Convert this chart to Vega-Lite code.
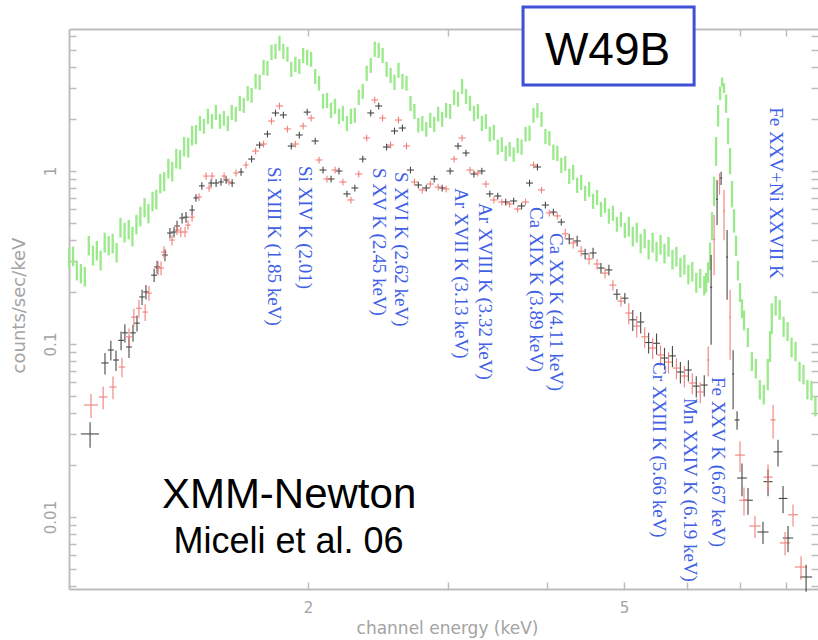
{
  "$schema": "https://vega.github.io/schema/vega-lite/v6.json",
  "width": 749,
  "height": 560,
  "autosize": "none",
  "padding": {"left": 69, "top": 29, "right": 0, "bottom": 51},
  "background": "white",
  "config": {
    "view": {"stroke": null},
    "axis": {
      "grid": false,
      "domainColor": "#bdbdbd",
      "domainWidth": 2,
      "tickColor": "#bdbdbd",
      "tickWidth": 1.5,
      "tickSize": -7,
      "labelColor": "#a3a3a3",
      "labelFont": "DejaVu Sans",
      "labelFontSize": 15,
      "labelOverlap": false,
      "titleColor": "#a3a3a3",
      "titleFont": "DejaVu Sans",
      "titleFontSize": 17,
      "titleFontWeight": "normal"
    }
  },
  "datasets": {
    "spectrum": [
      {"d":"pn","e":1.000,"c":0.314,"dc":0.041,"de":0.006},{"d":"pn","e":1.012,"c":0.323,"dc":0.042,"de":0.006},{"d":"pn","e":1.023,"c":0.268,"dc":0.035,"de":0.006},{"d":"pn","e":1.035,"c":0.257,"dc":0.033,"de":0.006},
      {"d":"pn","e":1.047,"c":0.247,"dc":0.032,"de":0.006},{"d":"pn","e":1.059,"c":0.373,"dc":0.048,"de":0.006},{"d":"pn","e":1.072,"c":0.327,"dc":0.043,"de":0.006},{"d":"pn","e":1.084,"c":0.349,"dc":0.045,"de":0.006},
      {"d":"pn","e":1.096,"c":0.306,"dc":0.040,"de":0.006},{"d":"pn","e":1.109,"c":0.389,"dc":0.051,"de":0.006},{"d":"pn","e":1.122,"c":0.373,"dc":0.048,"de":0.007},{"d":"pn","e":1.135,"c":0.384,"dc":0.050,"de":0.007},
      {"d":"pn","e":1.148,"c":0.340,"dc":0.044,"de":0.007},{"d":"pn","e":1.161,"c":0.474,"dc":0.062,"de":0.007},{"d":"pn","e":1.175,"c":0.444,"dc":0.058,"de":0.007},{"d":"pn","e":1.189,"c":0.462,"dc":0.060,"de":0.007},
      {"d":"pn","e":1.202,"c":0.421,"dc":0.055,"de":0.007},{"d":"pn","e":1.216,"c":0.494,"dc":0.064,"de":0.007},{"d":"pn","e":1.230,"c":0.550,"dc":0.072,"de":0.007},{"d":"pn","e":1.245,"c":0.619,"dc":0.080,"de":0.007},
      {"d":"pn","e":1.259,"c":0.572,"dc":0.074,"de":0.007},{"d":"pn","e":1.274,"c":0.671,"dc":0.087,"de":0.007},{"d":"pn","e":1.288,"c":0.690,"dc":0.090,"de":0.007},{"d":"pn","e":1.303,"c":0.852,"dc":0.11,"de":0.008},
      {"d":"pn","e":1.318,"c":0.875,"dc":0.11,"de":0.008},{"d":"pn","e":1.334,"c":1.041,"dc":0.135,"de":0.008},{"d":"pn","e":1.349,"c":1.000,"dc":0.13,"de":0.008},{"d":"pn","e":1.365,"c":1.189,"dc":0.155,"de":0.008},
      {"d":"pn","e":1.380,"c":1.173,"dc":0.15,"de":0.008},{"d":"pn","e":1.396,"c":1.394,"dc":0.18,"de":0.008},{"d":"pn","e":1.413,"c":1.376,"dc":0.18,"de":0.008},{"d":"pn","e":1.429,"c":1.615,"dc":0.21,"de":0.008},
      {"d":"pn","e":1.445,"c":1.637,"dc":0.21,"de":0.008},{"d":"pn","e":1.462,"c":1.894,"dc":0.19,"de":0.008},{"d":"pn","e":1.479,"c":1.821,"dc":0.18,"de":0.009},{"d":"pn","e":1.496,"c":2.078,"dc":0.21,"de":0.009},
      {"d":"pn","e":1.514,"c":1.945,"dc":0.19,"de":0.009},{"d":"pn","e":1.531,"c":2.193,"dc":0.22,"de":0.009},{"d":"pn","e":1.549,"c":1.945,"dc":0.19,"de":0.009},{"d":"pn","e":1.567,"c":2.025,"dc":0.20,"de":0.009},
      {"d":"pn","e":1.585,"c":1.894,"dc":0.19,"de":0.009},{"d":"pn","e":1.603,"c":2.193,"dc":0.22,"de":0.009},{"d":"pn","e":1.622,"c":2.135,"dc":0.21,"de":0.009},{"d":"pn","e":1.641,"c":2.472,"dc":0.25,"de":0.010},
      {"d":"pn","e":1.660,"c":2.407,"dc":0.24,"de":0.010},{"d":"pn","e":1.679,"c":2.822,"dc":0.28,"de":0.010},{"d":"pn","e":1.698,"c":2.750,"dc":0.27,"de":0.010},{"d":"pn","e":1.718,"c":3.312,"dc":0.33,"de":0.010},
      {"d":"pn","e":1.738,"c":3.268,"dc":0.33,"de":0.010},{"d":"pn","e":1.758,"c":3.99,"dc":0.40,"de":0.010},{"d":"pn","e":1.778,"c":3.94,"dc":0.39,"de":0.010},{"d":"pn","e":1.799,"c":4.87,"dc":0.49,"de":0.010},
      {"d":"pn","e":1.820,"c":4.94,"dc":0.49,"de":0.011},{"d":"pn","e":1.841,"c":5.50,"dc":0.55,"de":0.011},{"d":"pn","e":1.862,"c":4.94,"dc":0.49,"de":0.011},{"d":"pn","e":1.884,"c":4.75,"dc":0.47,"de":0.011},
      {"d":"pn","e":1.905,"c":3.89,"dc":0.39,"de":0.011},{"d":"pn","e":1.928,"c":4.16,"dc":0.42,"de":0.011},{"d":"pn","e":1.950,"c":4.04,"dc":0.40,"de":0.011},{"d":"pn","e":1.972,"c":4.68,"dc":0.47,"de":0.011},
      {"d":"pn","e":1.995,"c":4.56,"dc":0.46,"de":0.012},{"d":"pn","e":2.018,"c":4.44,"dc":0.44,"de":0.012},{"d":"pn","e":2.042,"c":3.54,"dc":0.35,"de":0.012},{"d":"pn","e":2.065,"c":3.23,"dc":0.32,"de":0.012},
      {"d":"pn","e":2.089,"c":2.54,"dc":0.25,"de":0.012},{"d":"pn","e":2.113,"c":2.57,"dc":0.26,"de":0.012},{"d":"pn","e":2.138,"c":2.25,"dc":0.23,"de":0.012},{"d":"pn","e":2.163,"c":2.38,"dc":0.24,"de":0.013},
      {"d":"pn","e":2.188,"c":2.08,"dc":0.21,"de":0.013},{"d":"pn","e":2.213,"c":2.16,"dc":0.22,"de":0.013},{"d":"pn","e":2.239,"c":1.89,"dc":0.19,"de":0.013},{"d":"pn","e":2.265,"c":2.08,"dc":0.21,"de":0.013},
      {"d":"pn","e":2.291,"c":2.11,"dc":0.21,"de":0.013},{"d":"pn","e":2.317,"c":2.68,"dc":0.27,"de":0.013},{"d":"pn","e":2.344,"c":2.90,"dc":0.29,"de":0.014},{"d":"pn","e":2.371,"c":3.69,"dc":0.37,"de":0.014},
      {"d":"pn","e":2.399,"c":4.10,"dc":0.41,"de":0.014},{"d":"pn","e":2.427,"c":5.08,"dc":0.51,"de":0.014},{"d":"pn","e":2.455,"c":5.01,"dc":0.50,"de":0.014},{"d":"pn","e":2.483,"c":4.68,"dc":0.47,"de":0.014},
      {"d":"pn","e":2.512,"c":3.89,"dc":0.39,"de":0.015},{"d":"pn","e":2.541,"c":3.59,"dc":0.36,"de":0.015},{"d":"pn","e":2.570,"c":3.27,"dc":0.33,"de":0.015},{"d":"pn","e":2.600,"c":3.84,"dc":0.38,"de":0.015},
      {"d":"pn","e":2.630,"c":3.31,"dc":0.33,"de":0.015},{"d":"pn","e":2.661,"c":3.23,"dc":0.32,"de":0.015},{"d":"pn","e":2.692,"c":2.47,"dc":0.25,"de":0.016},{"d":"pn","e":2.723,"c":2.22,"dc":0.22,"de":0.016},
      {"d":"pn","e":2.754,"c":1.85,"dc":0.18,"de":0.016},{"d":"pn","e":2.786,"c":1.89,"dc":0.19,"de":0.016},{"d":"pn","e":2.818,"c":1.75,"dc":0.17,"de":0.016},{"d":"pn","e":2.851,"c":1.97,"dc":0.20,"de":0.017},
      {"d":"pn","e":2.884,"c":1.87,"dc":0.19,"de":0.017},{"d":"pn","e":2.917,"c":2.14,"dc":0.21,"de":0.017},{"d":"pn","e":2.951,"c":2.00,"dc":0.20,"de":0.017},{"d":"pn","e":2.985,"c":2.25,"dc":0.22,"de":0.017},
      {"d":"pn","e":3.020,"c":2.22,"dc":0.22,"de":0.018},{"d":"pn","e":3.055,"c":2.68,"dc":0.27,"de":0.018},{"d":"pn","e":3.090,"c":2.61,"dc":0.26,"de":0.018},{"d":"pn","e":3.126,"c":3.10,"dc":0.31,"de":0.018},
      {"d":"pn","e":3.162,"c":2.71,"dc":0.27,"de":0.018},{"d":"pn","e":3.199,"c":2.47,"dc":0.25,"de":0.019},{"d":"pn","e":3.236,"c":2.16,"dc":0.22,"de":0.019},{"d":"pn","e":3.273,"c":2.22,"dc":0.22,"de":0.019},
      {"d":"pn","e":3.311,"c":1.89,"dc":0.19,"de":0.019},{"d":"pn","e":3.350,"c":1.94,"dc":0.19,"de":0.019},{"d":"pn","e":3.388,"c":1.64,"dc":0.16,"de":0.020},{"d":"pn","e":3.428,"c":1.68,"dc":0.17,"de":0.020},
      {"d":"pn","e":3.467,"c":1.38,"dc":0.14,"de":0.020},{"d":"pn","e":3.508,"c":1.43,"dc":0.14,"de":0.020},{"d":"pn","e":3.548,"c":1.27,"dc":0.13,"de":0.021},{"d":"pn","e":3.589,"c":1.34,"dc":0.13,"de":0.021},
      {"d":"pn","e":3.631,"c":1.25,"dc":0.12,"de":0.021},{"d":"pn","e":3.673,"c":1.41,"dc":0.14,"de":0.021},{"d":"pn","e":3.715,"c":1.38,"dc":0.14,"de":0.022},{"d":"pn","e":3.758,"c":1.64,"dc":0.16,"de":0.022},
      {"d":"pn","e":3.802,"c":1.66,"dc":0.17,"de":0.022},{"d":"pn","e":3.846,"c":2.11,"dc":0.21,"de":0.022},{"d":"pn","e":3.890,"c":2.25,"dc":0.22,"de":0.023},{"d":"pn","e":3.936,"c":2.00,"dc":0.20,"de":0.023},
      {"d":"pn","e":3.981,"c":1.59,"dc":0.16,"de":0.023},{"d":"pn","e":4.027,"c":1.55,"dc":0.15,"de":0.023},{"d":"pn","e":4.074,"c":1.29,"dc":0.13,"de":0.024},{"d":"pn","e":4.121,"c":1.27,"dc":0.13,"de":0.024},
      {"d":"pn","e":4.169,"c":1.083,"dc":0.11,"de":0.024},{"d":"pn","e":4.217,"c":1.11,"dc":0.11,"de":0.024},{"d":"pn","e":4.266,"c":0.935,"dc":0.094,"de":0.025},{"d":"pn","e":4.315,"c":0.987,"dc":0.099,"de":0.025},
      {"d":"pn","e":4.365,"c":0.830,"dc":0.083,"de":0.025},{"d":"pn","e":4.416,"c":0.864,"dc":0.086,"de":0.026},{"d":"pn","e":4.467,"c":0.746,"dc":0.075,"de":0.026},{"d":"pn","e":4.519,"c":0.787,"dc":0.079,"de":0.026},
      {"d":"pn","e":4.571,"c":0.671,"dc":0.067,"de":0.027},{"d":"pn","e":4.624,"c":0.707,"dc":0.071,"de":0.027},{"d":"pn","e":4.677,"c":0.603,"dc":0.060,"de":0.027},{"d":"pn","e":4.732,"c":0.636,"dc":0.064,"de":0.027},
      {"d":"pn","e":4.786,"c":0.550,"dc":0.055,"de":0.028},{"d":"pn","e":4.842,"c":0.572,"dc":0.057,"de":0.028},{"d":"pn","e":4.898,"c":0.494,"dc":0.049,"de":0.028},{"d":"pn","e":4.955,"c":0.528,"dc":0.053,"de":0.029},
      {"d":"pn","e":5.012,"c":0.456,"dc":0.046,"de":0.029},{"d":"pn","e":5.070,"c":0.481,"dc":0.063,"de":0.029},{"d":"pn","e":5.129,"c":0.421,"dc":0.055,"de":0.030},{"d":"pn","e":5.188,"c":0.444,"dc":0.058,"de":0.030},
      {"d":"pn","e":5.248,"c":0.384,"dc":0.050,"de":0.030},{"d":"pn","e":5.309,"c":0.410,"dc":0.053,"de":0.031},{"d":"pn","e":5.370,"c":0.354,"dc":0.046,"de":0.031},{"d":"pn","e":5.433,"c":0.389,"dc":0.051,"de":0.032},
      {"d":"pn","e":5.495,"c":0.344,"dc":0.045,"de":0.032},{"d":"pn","e":5.559,"c":0.378,"dc":0.049,"de":0.032},{"d":"pn","e":5.623,"c":0.336,"dc":0.044,"de":0.033},{"d":"pn","e":5.689,"c":0.368,"dc":0.048,"de":0.033},
      {"d":"pn","e":5.754,"c":0.310,"dc":0.040,"de":0.033},{"d":"pn","e":5.821,"c":0.323,"dc":0.042,"de":0.034},{"d":"pn","e":5.888,"c":0.279,"dc":0.036,"de":0.034},{"d":"pn","e":5.957,"c":0.290,"dc":0.038,"de":0.035},
      {"d":"pn","e":6.026,"c":0.254,"dc":0.033,"de":0.035},{"d":"pn","e":6.095,"c":0.264,"dc":0.034,"de":0.035},{"d":"pn","e":6.166,"c":0.228,"dc":0.030,"de":0.036},{"d":"pn","e":6.237,"c":0.241,"dc":0.031,"de":0.036},
      {"d":"pn","e":6.310,"c":0.219,"dc":0.028,"de":0.037},
      {"d":"pn","e":6.344,"c":0.228,"dc":0.030,"de":0.019},{"d":"pn","e":6.381,"c":0.261,"dc":0.035,"de":0.019},{"d":"pn","e":6.418,"c":0.327,"dc":0.060,"de":0.019},{"d":"pn","e":6.455,"c":0.487,"dc":0.090,"de":0.019},
      {"d":"pn","e":6.493,"c":0.777,"dc":0.15,"de":0.019},{"d":"pn","e":6.531,"c":1.322,"dc":0.25,"de":0.019},{"d":"pn","e":6.569,"c":2.107,"dc":0.30,"de":0.019},{"d":"pn","e":6.607,"c":2.82,"dc":0.25,"de":0.019},
      {"d":"pn","e":6.645,"c":3.27,"dc":0.20,"de":0.019},{"d":"pn","e":6.683,"c":3.02,"dc":0.20,"de":0.019},{"d":"pn","e":6.723,"c":2.47,"dc":0.30,"de":0.019},{"d":"pn","e":6.761,"c":1.726,"dc":0.30,"de":0.020},
      {"d":"pn","e":6.801,"c":1.158,"dc":0.20,"de":0.020},{"d":"pn","e":6.839,"c":0.746,"dc":0.13,"de":0.020},{"d":"pn","e":6.879,"c":0.521,"dc":0.08,"de":0.020},{"d":"pn","e":6.919,"c":0.373,"dc":0.05,"de":0.020},
      {"d":"pn","e":6.959,"c":0.268,"dc":0.035,"de":0.020},{"d":"pn","e":7.000,"c":0.200,"dc":0.025,"de":0.020},{"d":"pn","e":7.040,"c":0.161,"dc":0.020,"de":0.020},{"d":"pn","e":7.081,"c":0.138,"dc":0.018,"de":0.020},
      {"d":"pn","e":7.161,"c":0.110,"dc":0.014,"de":0.042},{"d":"pn","e":7.244,"c":0.0797,"dc":0.010,"de":0.042},{"d":"pn","e":7.328,"c":0.0726,"dc":0.0094,"de":0.043},{"d":"pn","e":7.413,"c":0.0549,"dc":0.0071,"de":0.043},
      {"d":"pn","e":7.499,"c":0.0514,"dc":0.0067,"de":0.044},{"d":"pn","e":7.586,"c":0.0680,"dc":0.014,"de":0.044},{"d":"pn","e":7.637,"c":0.0987,"dc":0.020,"de":0.022},{"d":"pn","e":7.674,"c":0.143,"dc":0.029,"de":0.044},
      {"d":"pn","e":7.762,"c":0.168,"dc":0.022,"de":0.045},{"d":"pn","e":7.852,"c":0.159,"dc":0.021,"de":0.046},{"d":"pn","e":7.943,"c":0.127,"dc":0.017,"de":0.046},{"d":"pn","e":8.035,"c":0.119,"dc":0.015,"de":0.047},
      {"d":"pn","e":8.128,"c":0.0962,"dc":0.0125,"de":0.047},{"d":"pn","e":8.222,"c":0.0911,"dc":0.0118,"de":0.048},{"d":"pn","e":8.318,"c":0.0698,"dc":0.0091,"de":0.048},{"d":"pn","e":8.414,"c":0.0671,"dc":0.0087,"de":0.049},
      {"d":"pn","e":8.511,"c":0.0549,"dc":0.0071,"de":0.049},{"d":"pn","e":8.610,"c":0.0542,"dc":0.0070,"de":0.050},{"d":"pn","e":8.710,"c":0.0438,"dc":0.0057,"de":0.050},

      {"d":"MOS1","e":1.063,"c":0.0302,"de":0.028,"dc":0.0051},{"d":"MOS1","e":1.110,"c":0.0777,"de":0.012,"dc":0.011},{"d":"MOS1","e":1.129,"c":0.0923,"de":0.010,"dc":0.012},
      {"d":"MOS1","e":1.146,"c":0.0808,"de":0.010,"dc":0.011},{"d":"MOS1","e":1.163,"c":0.105,"de":0.010,"dc":0.013},{"d":"MOS1","e":1.176,"c":0.116,"de":0.010,"dc":0.014},
      {"d":"MOS1","e":1.190,"c":0.0961,"de":0.010,"dc":0.013},{"d":"MOS1","e":1.204,"c":0.116,"de":0.010,"dc":0.013},{"d":"MOS1","e":1.218,"c":0.132,"de":0.010,"dc":0.014},
      {"d":"MOS1","e":1.236,"c":0.187,"de":0.010,"dc":0.019},{"d":"MOS1","e":1.250,"c":0.200,"de":0.010,"dc":0.019},{"d":"MOS1","e":1.280,"c":0.250,"de":0.011,"dc":0.022},
      {"d":"MOS1","e":1.291,"c":0.279,"de":0.011,"dc":0.024},{"d":"MOS1","e":1.321,"c":0.327,"de":0.011,"dc":0.026},{"d":"MOS1","e":1.340,"c":0.438,"de":0.011,"dc":0.031},
      {"d":"MOS1","e":1.356,"c":0.444,"de":0.011,"dc":0.031},{"d":"MOS1","e":1.368,"c":0.481,"de":0.011,"dc":0.034},{"d":"MOS1","e":1.388,"c":0.535,"de":0.011,"dc":0.037},
      {"d":"MOS1","e":1.404,"c":0.541,"de":0.011,"dc":0.038},{"d":"MOS1","e":1.429,"c":0.595,"de":0.011,"dc":0.042},{"d":"MOS1","e":1.445,"c":0.699,"de":0.011,"dc":0.035},
      {"d":"MOS1","e":1.470,"c":0.820,"de":0.012,"dc":0.041},{"d":"MOS1","e":1.510,"c":0.852,"de":0.012,"dc":0.043},{"d":"MOS1","e":1.532,"c":0.852,"de":0.012,"dc":0.043},
      {"d":"MOS1","e":1.554,"c":0.864,"de":0.012,"dc":0.043},{"d":"MOS1","e":1.577,"c":0.887,"de":0.012,"dc":0.044},{"d":"MOS1","e":1.605,"c":0.852,"de":0.012,"dc":0.043},
      {"d":"MOS1","e":1.647,"c":0.987,"de":0.013,"dc":0.049},
      {"d":"MOS1","e":1.698,"c":1.173,"de":0.017,"dc":0.053},{"d":"MOS1","e":1.738,"c":1.413,"de":0.018,"dc":0.064},{"d":"MOS1","e":1.778,"c":1.637,"de":0.018,"dc":0.074},
      {"d":"MOS1","e":1.820,"c":2.165,"de":0.019,"dc":0.097},{"d":"MOS1","e":1.862,"c":2.107,"de":0.019,"dc":0.095},{"d":"MOS1","e":1.905,"c":1.394,"de":0.019,"dc":0.063},
      {"d":"MOS1","e":1.950,"c":1.615,"de":0.020,"dc":0.073},{"d":"MOS1","e":1.995,"c":2.19,"de":0.020,"dc":0.099},{"d":"MOS1","e":2.042,"c":1.491,"de":0.021,"dc":0.067},
      {"d":"MOS1","e":2.089,"c":1.013,"de":0.021,"dc":0.046},{"d":"MOS1","e":2.138,"c":0.899,"de":0.022,"dc":0.040},{"d":"MOS1","e":2.188,"c":1.000,"de":0.022,"dc":0.045},
      {"d":"MOS1","e":2.239,"c":0.737,"de":0.023,"dc":0.033},{"d":"MOS1","e":2.291,"c":0.798,"de":0.023,"dc":0.036},{"d":"MOS1","e":2.344,"c":1.173,"de":0.024,"dc":0.053},
      {"d":"MOS1","e":2.399,"c":2.165,"de":0.024,"dc":0.097},{"d":"MOS1","e":2.455,"c":2.375,"de":0.025,"dc":0.107},{"d":"MOS1","e":2.512,"c":1.376,"de":0.026,"dc":0.062},
      {"d":"MOS1","e":2.570,"c":1.704,"de":0.026,"dc":0.077},{"d":"MOS1","e":2.630,"c":1.772,"de":0.027,"dc":0.080},{"d":"MOS1","e":2.692,"c":1.013,"de":0.027,"dc":0.046},
      {"d":"MOS1","e":2.754,"c":0.830,"de":0.028,"dc":0.037},{"d":"MOS1","e":2.818,"c":0.798,"de":0.029,"dc":0.036},{"d":"MOS1","e":2.884,"c":0.899,"de":0.029,"dc":0.040},
      {"d":"MOS1","e":2.951,"c":0.798,"de":0.030,"dc":0.036},{"d":"MOS1","e":3.020,"c":1.000,"de":0.031,"dc":0.045},{"d":"MOS1","e":3.090,"c":1.394,"de":0.032,"dc":0.063},
      {"d":"MOS1","e":3.162,"c":1.271,"de":0.032,"dc":0.057},{"d":"MOS1","e":3.236,"c":0.961,"de":0.033,"dc":0.043},{"d":"MOS1","e":3.311,"c":1.000,"de":0.034,"dc":0.045},
      {"d":"MOS1","e":3.388,"c":0.737,"de":0.035,"dc":0.033},{"d":"MOS1","e":3.467,"c":0.717,"de":0.035,"dc":0.032},{"d":"MOS1","e":3.548,"c":0.662,"de":0.036,"dc":0.030},
      {"d":"MOS1","e":3.631,"c":0.671,"de":0.037,"dc":0.030},{"d":"MOS1","e":3.715,"c":0.628,"de":0.038,"dc":0.028},{"d":"MOS1","e":3.802,"c":0.852,"de":0.039,"dc":0.038},
      {"d":"MOS1","e":3.890,"c":1.055,"de":0.040,"dc":0.047},{"d":"MOS1","e":3.981,"c":0.636,"de":0.041,"dc":0.029},{"d":"MOS1","e":4.074,"c":0.579,"de":0.042,"dc":0.026},
      {"d":"MOS1","e":4.169,"c":0.507,"de":0.043,"dc":0.023},{"d":"MOS1","e":4.266,"c":0.405,"de":0.044,"dc":0.028},{"d":"MOS1","e":4.365,"c":0.394,"de":0.045,"dc":0.028},
      {"d":"MOS1","e":4.467,"c":0.332,"de":0.046,"dc":0.023},{"d":"MOS1","e":4.571,"c":0.336,"de":0.047,"dc":0.024},{"d":"MOS1","e":4.677,"c":0.275,"de":0.048,"dc":0.019},
      {"d":"MOS1","e":4.786,"c":0.268,"de":0.049,"dc":0.019},{"d":"MOS1","e":4.898,"c":0.194,"de":0.050,"dc":0.014},{"d":"MOS1","e":5.012,"c":0.184,"de":0.051,"dc":0.013},
      {"d":"MOS1","e":5.129,"c":0.138,"de":0.052,"dc":0.019},{"d":"MOS1","e":5.248,"c":0.134,"de":0.054,"dc":0.019},{"d":"MOS1","e":5.370,"c":0.102,"de":0.055,"dc":0.014},
      {"d":"MOS1","e":5.495,"c":0.101,"de":0.056,"dc":0.014},{"d":"MOS1","e":5.623,"c":0.083,"de":0.057,"dc":0.012},{"d":"MOS1","e":5.754,"c":0.0853,"de":0.059,"dc":0.012},
      {"d":"MOS1","e":5.888,"c":0.0689,"de":0.060,"dc":0.0097},{"d":"MOS1","e":6.026,"c":0.0707,"de":0.061,"dc":0.0099},{"d":"MOS1","e":6.166,"c":0.0571,"de":0.063,"dc":0.0080},
      {"d":"MOS1","e":6.310,"c":0.0579,"de":0.064,"dc":0.0081},
      {"d":"MOS1","e":6.437,"c":0.213,"de":0.020,"dc":0.114},{"d":"MOS1","e":6.549,"c":0.687,"de":0.020,"dc":0.20},{"d":"MOS1","e":6.626,"c":0.910,"de":0.020,"dc":0.08},
      {"d":"MOS1","e":6.742,"c":0.318,"de":0.020,"dc":0.138},{"d":"MOS1","e":6.861,"c":0.067,"de":0.020,"dc":0.025},
      {"d":"MOS1","e":6.940,"c":0.0364,"de":0.05,"dc":0.0045},{"d":"MOS1","e":7.040,"c":0.0168,"de":0.10,"dc":0.0036},
      {"d":"MOS1","e":7.164,"c":0.0125,"de":0.10,"dc":0.0022},{"d":"MOS1","e":7.482,"c":0.00819,"de":0.12,"dc":0.0012},{"d":"MOS1","e":7.592,"c":0.0160,"de":0.10,"dc":0.0028},
      {"d":"MOS1","e":7.815,"c":0.0238,"de":0.10,"dc":0.0042},{"d":"MOS1","e":7.930,"c":0.0128,"de":0.10,"dc":0.0023},{"d":"MOS1","e":8.045,"c":0.00756,"de":0.12,"dc":0.0013},
      {"d":"MOS1","e":8.478,"c":0.00450,"de":0.15,"dc":0.0008},

      {"d":"MOS2","e":1.066,"c":0.0444,"de":0.022,"dc":0.0070},{"d":"MOS2","e":1.104,"c":0.0494,"de":0.014,"dc":0.0074},{"d":"MOS2","e":1.136,"c":0.0564,"de":0.012,"dc":0.0085},
      {"d":"MOS2","e":1.166,"c":0.0736,"de":0.011,"dc":0.0095},{"d":"MOS2","e":1.190,"c":0.110,"de":0.010,"dc":0.013},{"d":"MOS2","e":1.207,"c":0.143,"de":0.010,"dc":0.017},
      {"d":"MOS2","e":1.225,"c":0.161,"de":0.010,"dc":0.019},{"d":"MOS2","e":1.247,"c":0.153,"de":0.010,"dc":0.017},{"d":"MOS2","e":1.261,"c":0.197,"de":0.010,"dc":0.020},
      {"d":"MOS2","e":1.295,"c":0.275,"de":0.011,"dc":0.025},{"d":"MOS2","e":1.306,"c":0.275,"de":0.011,"dc":0.025},{"d":"MOS2","e":1.317,"c":0.340,"de":0.011,"dc":0.027},
      {"d":"MOS2","e":1.348,"c":0.399,"de":0.011,"dc":0.028},{"d":"MOS2","e":1.368,"c":0.456,"de":0.011,"dc":0.030},{"d":"MOS2","e":1.383,"c":0.444,"de":0.011,"dc":0.030},
      {"d":"MOS2","e":1.400,"c":0.444,"de":0.011,"dc":0.030},{"d":"MOS2","e":1.412,"c":0.487,"de":0.011,"dc":0.030},{"d":"MOS2","e":1.429,"c":0.541,"de":0.011,"dc":0.032},
      {"d":"MOS2","e":1.458,"c":0.707,"de":0.012,"dc":0.036},{"d":"MOS2","e":1.488,"c":0.935,"de":0.012,"dc":0.045},{"d":"MOS2","e":1.501,"c":0.798,"de":0.012,"dc":0.040},
      {"d":"MOS2","e":1.514,"c":0.935,"de":0.012,"dc":0.045},{"d":"MOS2","e":1.568,"c":0.935,"de":0.012,"dc":0.045},{"d":"MOS2","e":1.590,"c":0.864,"de":0.012,"dc":0.040},
      {"d":"MOS2","e":1.623,"c":0.974,"de":0.013,"dc":0.045},{"d":"MOS2","e":1.671,"c":1.083,"de":0.013,"dc":0.050},
      {"d":"MOS2","e":1.718,"c":1.305,"de":0.018,"dc":0.059},{"d":"MOS2","e":1.758,"c":1.432,"de":0.018,"dc":0.064},{"d":"MOS2","e":1.799,"c":1.945,"de":0.018,"dc":0.088},
      {"d":"MOS2","e":1.841,"c":2.375,"de":0.019,"dc":0.107},{"d":"MOS2","e":1.884,"c":1.750,"de":0.019,"dc":0.079},{"d":"MOS2","e":1.928,"c":1.432,"de":0.020,"dc":0.064},
      {"d":"MOS2","e":1.972,"c":1.821,"de":0.020,"dc":0.082},{"d":"MOS2","e":2.018,"c":2.025,"de":0.021,"dc":0.091},{"d":"MOS2","e":2.065,"c":1.158,"de":0.021,"dc":0.052},
      {"d":"MOS2","e":2.113,"c":0.899,"de":0.022,"dc":0.040},{"d":"MOS2","e":2.163,"c":1.013,"de":0.022,"dc":0.046},{"d":"MOS2","e":2.213,"c":0.864,"de":0.023,"dc":0.039},
      {"d":"MOS2","e":2.265,"c":0.680,"de":0.023,"dc":0.031},{"d":"MOS2","e":2.317,"c":0.961,"de":0.024,"dc":0.043},{"d":"MOS2","e":2.371,"c":1.551,"de":0.024,"dc":0.070},
      {"d":"MOS2","e":2.427,"c":2.573,"de":0.025,"dc":0.116},{"d":"MOS2","e":2.483,"c":2.025,"de":0.025,"dc":0.091},{"d":"MOS2","e":2.541,"c":1.413,"de":0.026,"dc":0.064},
      {"d":"MOS2","e":2.600,"c":1.971,"de":0.027,"dc":0.089},{"d":"MOS2","e":2.661,"c":1.394,"de":0.027,"dc":0.063},{"d":"MOS2","e":2.723,"c":0.864,"de":0.028,"dc":0.039},
      {"d":"MOS2","e":2.786,"c":0.777,"de":0.028,"dc":0.035},{"d":"MOS2","e":2.851,"c":0.841,"de":0.029,"dc":0.038},{"d":"MOS2","e":2.917,"c":0.808,"de":0.030,"dc":0.036},
      {"d":"MOS2","e":2.985,"c":0.787,"de":0.030,"dc":0.035},{"d":"MOS2","e":3.055,"c":1.173,"de":0.031,"dc":0.053},{"d":"MOS2","e":3.126,"c":1.551,"de":0.032,"dc":0.070},
      {"d":"MOS2","e":3.199,"c":1.013,"de":0.033,"dc":0.046},{"d":"MOS2","e":3.273,"c":0.974,"de":0.033,"dc":0.044},{"d":"MOS2","e":3.350,"c":0.841,"de":0.034,"dc":0.038},
      {"d":"MOS2","e":3.428,"c":0.680,"de":0.035,"dc":0.031},{"d":"MOS2","e":3.508,"c":0.662,"de":0.036,"dc":0.030},{"d":"MOS2","e":3.589,"c":0.645,"de":0.037,"dc":0.029},
      {"d":"MOS2","e":3.673,"c":0.603,"de":0.037,"dc":0.027},{"d":"MOS2","e":3.758,"c":0.662,"de":0.038,"dc":0.030},{"d":"MOS2","e":3.846,"c":1.083,"de":0.039,"dc":0.049},
      {"d":"MOS2","e":3.936,"c":0.777,"de":0.040,"dc":0.035},{"d":"MOS2","e":4.027,"c":0.572,"de":0.041,"dc":0.026},{"d":"MOS2","e":4.121,"c":0.550,"de":0.042,"dc":0.025},
      {"d":"MOS2","e":4.217,"c":0.433,"de":0.043,"dc":0.030},{"d":"MOS2","e":4.315,"c":0.384,"de":0.044,"dc":0.027},{"d":"MOS2","e":4.416,"c":0.344,"de":0.045,"dc":0.024},
      {"d":"MOS2","e":4.519,"c":0.310,"de":0.046,"dc":0.022},{"d":"MOS2","e":4.624,"c":0.290,"de":0.047,"dc":0.020},{"d":"MOS2","e":4.732,"c":0.257,"de":0.048,"dc":0.018},
      {"d":"MOS2","e":4.842,"c":0.219,"de":0.049,"dc":0.015},{"d":"MOS2","e":4.955,"c":0.177,"de":0.051,"dc":0.012},{"d":"MOS2","e":5.070,"c":0.151,"de":0.052,"dc":0.021},
      {"d":"MOS2","e":5.188,"c":0.127,"de":0.053,"dc":0.018},{"d":"MOS2","e":5.309,"c":0.110,"de":0.054,"dc":0.015},{"d":"MOS2","e":5.433,"c":0.0948,"de":0.055,"dc":0.013},
      {"d":"MOS2","e":5.559,"c":0.0864,"de":0.057,"dc":0.012},{"d":"MOS2","e":5.689,"c":0.0786,"de":0.058,"dc":0.011},{"d":"MOS2","e":5.821,"c":0.0726,"de":0.059,"dc":0.010},
      {"d":"MOS2","e":5.957,"c":0.0653,"de":0.061,"dc":0.0091},{"d":"MOS2","e":6.095,"c":0.0595,"de":0.062,"dc":0.0083},{"d":"MOS2","e":6.237,"c":0.0528,"de":0.064,"dc":0.0074},
      {"d":"MOS2","e":6.383,"c":0.0808,"de":0.025,"dc":0.016},
      {"d":"MOS2","e":6.493,"c":0.403,"de":0.020,"dc":0.153},{"d":"MOS2","e":6.597,"c":0.850,"de":0.020,"dc":0.12},{"d":"MOS2","e":6.683,"c":0.588,"de":0.020,"dc":0.19},
      {"d":"MOS2","e":6.801,"c":0.143,"de":0.020,"dc":0.062},
      {"d":"MOS2","e":7.000,"c":0.0228,"de":0.10,"dc":0.0046},{"d":"MOS2","e":7.081,"c":0.0125,"de":0.10,"dc":0.0023},
      {"d":"MOS2","e":7.311,"c":0.00887,"de":0.12,"dc":0.0013},{"d":"MOS2","e":7.592,"c":0.0170,"de":0.10,"dc":0.0031},{"d":"MOS2","e":7.704,"c":0.0364,"de":0.06,"dc":0.008},
      {"d":"MOS2","e":7.976,"c":0.00708,"de":0.12,"dc":0.0011},{"d":"MOS2","e":8.163,"c":0.0103,"de":0.12,"dc":0.0015},{"d":"MOS2","e":8.355,"c":0.00514,"de":0.15,"dc":0.0008}
    ],
    "lines": [
      {"label":"Si XIII K (1.85 keV)","e":1.812,"c":1.055},
      {"label":"Si XIV K (2.01)","e":1.983,"c":1.069},
      {"label":"S XV K (2.45 keV)","e":2.457,"c":1.041},
      {"label":"S XVI K (2.62 keV)","e":2.619,"c":0.987},
      {"label":"Ar XVII K (3.13 keV)","e":3.117,"c":0.797},
      {"label":"Ar XVIII K (3.32 keV)","e":3.341,"c":0.653},
      {"label":"Ca XIX K (3.89 keV)","e":3.874,"c":0.619},
      {"label":"Ca XX K (4.11 keV)","e":4.106,"c":0.438},
      {"label":"Cr XXIII K (5.66 keV)","e":5.535,"c":0.0787},
      {"label":"Mn XXIV K (6.19 keV)","e":6.056,"c":0.0487},
      {"label":"Fe XXV K (6.67 keV)","e":6.567,"c":0.0645},
      {"label":"Fe XXV+Ni XXVII K","e":7.771,"c":2.34}
    ],
    "box": [{"e":3.731,"e2":6.127,"c":8.87,"c2":3.141}],
    "tag": [{"label":"W49B","e":4.767,"c":4.10}],
    "notes": [
      {"label":"XMM-Newton","e":1.893,"c":0.01127},
      {"label":"Miceli et al. 06","e":1.890,"c":0.00619}
    ]
  },
  "encoding": {
    "x": {"field": "e", "type": "quantitative", "scale": {"type": "log", "domain": [1, 8.776], "nice": false}, "axis": null},
    "y": {"field": "c", "type": "quantitative", "scale": {"type": "log", "domain": [0.003835, 6.62], "nice": false}, "axis": null}
  },
  "layer": [
    {
      "data": {"name": "spectrum"},
      "transform": [{"filter": "datum.d == 'pn'"}],
      "mark": {"type": "errorbar", "thickness": 2.3},
      "encoding": {
        "yError": {"field": "dc"},
        "color": {"field": "d", "type": "nominal", "scale": {"domain": ["pn", "MOS1", "MOS2"], "range": ["#9ae98a", "#484848", "#f08079"]}, "legend": null}
      }
    },
    {
      "data": {"name": "spectrum"},
      "transform": [{"filter": "datum.d != 'pn'"}],
      "mark": {"type": "errorbar", "thickness": 1.1},
      "encoding": {
        "xError": {"field": "de"},
        "color": {"field": "d", "type": "nominal", "legend": null}
      }
    },
    {
      "data": {"name": "spectrum"},
      "transform": [{"filter": "datum.d != 'pn'"}],
      "mark": {"type": "errorbar", "thickness": 1.1},
      "encoding": {
        "yError": {"field": "dc"},
        "color": {"field": "d", "type": "nominal", "legend": null}
      }
    },
    {
      "data": {"name": "lines"},
      "mark": {"type": "text", "angle": 90, "align": "left", "baseline": "middle", "font": "Liberation Serif", "fontSize": 19, "color": "#3f5fe6"},
      "encoding": {
        "x": {
          "field": "e", "type": "quantitative",
          "scale": {"type": "log", "domain": [1, 8.776], "nice": false},
          "axis": {
            "orient": "bottom",
            "values": [2, 3, 4, 5, 6, 7, 8],
            "labelExpr": "datum.value == 2 ? '2' : datum.value == 5 ? '5' : ''",
            "labelPadding": 18,
            "title": "channel energy (keV)",
            "titleX": 378, "titleY": 44, "titleAlign": "center", "titleBaseline": "alphabetic"
          }
        },
        "y": {
          "field": "c", "type": "quantitative",
          "scale": {"type": "log", "domain": [0.003835, 6.62], "nice": false},
          "axis": {
            "orient": "left",
            "values": [0.004, 0.005, 0.006, 0.007, 0.008, 0.009, 0.01, 0.02, 0.03, 0.04, 0.05, 0.06, 0.07, 0.08, 0.09, 0.1, 0.2, 0.3, 0.4, 0.5, 0.6, 0.7, 0.8, 0.9, 1, 2, 3, 4, 5, 6],
            "labelExpr": "datum.value == 1 ? '1' : datum.value == 0.1 ? '0.1' : datum.value == 0.01 ? '0.01' : ''",
            "labelAngle": -90, "labelAlign": "center", "labelBaseline": "alphabetic", "labelPadding": 21,
            "title": "counts/sec/keV", "titleFontSize": 18,
            "titleX": -45, "titleY": 276, "titleAngle": -90, "titleAlign": "center", "titleBaseline": "alphabetic"
          }
        },
        "text": {"field": "label"}
      }
    },
    {
      "data": {"name": "box"},
      "mark": {"type": "rect", "fill": "white", "stroke": "#3f4fd6", "strokeWidth": 3},
      "encoding": {
        "x": {
          "field": "e", "type": "quantitative",
          "scale": {"type": "log", "domain": [1, 8.776], "nice": false},
          "axis": {"orient": "top", "values": [2, 3, 4, 5, 6, 7, 8], "labels": false, "title": null}
        },
        "x2": {"field": "e2"},
        "y": {
          "field": "c", "type": "quantitative",
          "scale": {"type": "log", "domain": [0.003835, 6.62], "nice": false},
          "axis": {"orient": "right", "values": [0.004, 0.005, 0.006, 0.007, 0.008, 0.009, 0.01, 0.02, 0.03, 0.04, 0.05, 0.06, 0.07, 0.08, 0.09, 0.1, 0.2, 0.3, 0.4, 0.5, 0.6, 0.7, 0.8, 0.9, 1, 2, 3, 4, 5, 6], "labels": false, "title": null, "domain": false}
        },
        "y2": {"field": "c2"}
      }
    },
    {
      "data": {"name": "tag"},
      "mark": {"type": "text", "align": "center", "baseline": "alphabetic", "font": "Liberation Sans", "fontSize": 46, "color": "#000000"},
      "encoding": {"text": {"field": "label"}}
    },
    {
      "data": {"name": "notes"},
      "transform": [{"filter": "datum.label == 'XMM-Newton'"}],
      "mark": {"type": "text", "align": "center", "baseline": "alphabetic", "font": "Liberation Sans", "fontSize": 42, "color": "#000000"},
      "encoding": {"text": {"field": "label"}}
    },
    {
      "data": {"name": "notes"},
      "transform": [{"filter": "datum.label != 'XMM-Newton'"}],
      "mark": {"type": "text", "align": "center", "baseline": "alphabetic", "font": "Liberation Sans", "fontSize": 36, "color": "#000000"},
      "encoding": {"text": {"field": "label"}}
    }
  ],
  "resolve": {"axis": {"x": "independent", "y": "independent"}}
}
